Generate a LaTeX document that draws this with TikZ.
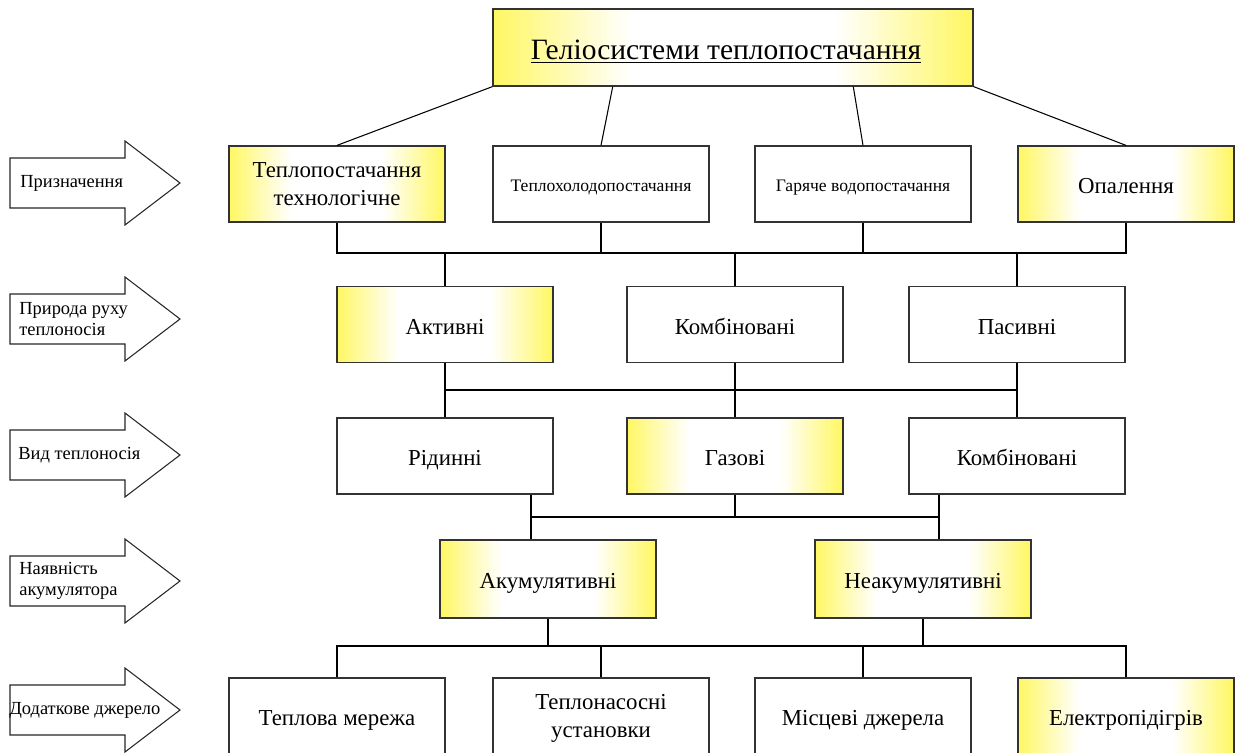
\documentclass[tikz,border=0pt]{standalone}
\usepackage{fontspec}
\setmainfont{Liberation Serif}
\usetikzlibrary{calc}

\tikzset{
    box/.style={draw=black!80, line width=0.7pt, minimum width=4.32cm, minimum height=1.52cm, align=center, inner sep=2pt, font=\fontsize{13}{16}\selectfont, execute at begin node=\strut, text depth=0pt},
    smallbox/.style={box, font=\fontsize{10}{12}\selectfont},
    glow/.style={path picture={
        \foreach \i in {0,...,19} {
            \pgfmathsetmacro\lev{60*(1-\i/20)}
            \fill[yellow!\lev] ($(path picture bounding box.south west)!{\i*0.014}!(path picture bounding box.south east)$) rectangle ($(path picture bounding box.north west)!{(\i+1)*0.014+0.003}!(path picture bounding box.north east)$);
            \fill[yellow!\lev] ($(path picture bounding box.south east)!{\i*0.014}!(path picture bounding box.south west)$) rectangle ($(path picture bounding box.north east)!{(\i+1)*0.014+0.003}!(path picture bounding box.north west)$);
        }
    }},
    conn/.style={line width=0.6pt},
    blockarrow/.style={draw=black!85, line width=0.6pt, fill=white},
    arrowtext/.style={anchor=west, align=left, inner sep=0pt, font=\fontsize{10.5}{12}\selectfont}
}

\begin{document}
\begin{tikzpicture}[x=0.02cm, y=-0.02cm]
    \useasboundingbox (0,0) rectangle (1240,753);

    % Заголовок
    \node[box, glow, minimum width=9.6cm, minimum height=1.54cm, font=\fontsize{16.8}{20}\selectfont] (top) at (733,47.5) {\underline{Геліосистеми теплопостачання}\hspace*{0.28cm}};

    % Призначення
    \node[box, glow] (pr1) at (337,184) {Теплопостачання\\технологічне};
    \node[smallbox] (pr2) at (601,184) {Теплохолодопостачання};
    \node[smallbox] (pr3) at (863,184) {Гаряче водопостачання};
    \node[box, glow] (pr4) at (1126,184) {Опалення};

    % Природа руху теплоносія
    \node[box, glow] (ru1) at (445,324.5) {Активні};
    \node[box] (ru2) at (735,324.5) {Комбіновані};
    \node[box] (ru3) at (1017,324.5) {Пасивні};

    % Вид теплоносія
    \node[box] (vy1) at (445,456) {Рідинні};
    \node[box, glow] (vy2) at (735,456) {Газові};
    \node[box] (vy3) at (1017,456) {Комбіновані};

    % Наявність акумулятора
    \node[box, glow, minimum height=1.56cm] (ak1) at (548,579) {Акумулятивні};
    \node[box, glow, minimum height=1.56cm] (ak2) at (923,579) {Неакумулятивні};

    % Додаткове джерело
    \node[box] (dz1) at (337,716) {Теплова мережа};
    \node[box] (dz2) at (601,716) {Теплонасосні\\установки};
    \node[box] (dz3) at (863,716) {Місцеві джерела};
    \node[box, glow] (dz4) at (1126,716) {Електропідігрів};

    % Шини
    \coordinate (bus1) at (0,253);
    \coordinate (bus2) at (0,390);
    \coordinate (bus3) at (0,517);
    \coordinate (bus4) at (0,646);
    \coordinate (k1) at (531,0);
    \coordinate (k2) at (939,0);

    % Зв'язки
    \draw[conn] (top.south west) -- (pr1.north);
    \draw[conn] ($(top.south west)!0.25!(top.south east)$) -- (pr2.north);
    \draw[conn] ($(top.south west)!0.75!(top.south east)$) -- (pr3.north);
    \draw[conn] (top.south east) -- (pr4.north);

    \draw[conn] (pr1.south) -- (pr1.south |- bus1) -- (pr4.south |- bus1) -- (pr4.south);
    \foreach \n in {pr2,pr3}
        \draw[conn] (\n.south) -- (\n.south |- bus1);
    \foreach \n in {ru1,ru2,ru3}
        \draw[conn] (\n.north) -- (\n.north |- bus1);

    \draw[conn] (ru1.south) -- (vy1.north);
    \draw[conn] (ru2.south) -- (vy2.north);
    \draw[conn] (ru3.south) -- (vy3.north);
    \draw[conn] (ru1.south |- bus2) -- (ru3.south |- bus2);

    \draw[conn] (vy1.south -| k1) -- (ak1.north -| k1);
    \draw[conn] (vy3.south -| k2) -- (ak2.north -| k2);
    \draw[conn] (vy2.south) -- (vy2.south |- bus3);
    \draw[conn] (k1 |- bus3) -- (k2 |- bus3);

    \draw[conn] (ak1.south) -- (ak1.south |- bus4);
    \draw[conn] (ak2.south) -- (ak2.south |- bus4);
    \draw[conn] (dz1.north) -- (dz1.north |- bus4) -- (dz4.north |- bus4) -- (dz4.north);
    \foreach \n in {dz2,dz3}
        \draw[conn] (\n.north) -- (\n.north |- bus4);

    % Стрілки ознак
    \foreach \yc/\xt/\txt/\nm in {183/20/Призначення/oz1, 319/19/{Природа руху\\теплоносія}/oz2, 455/18/Вид теплоносія/oz3, 581/19/{Наявність\\акумулятора}/oz4, 710/9/Додаткове джерело/oz5} {
        \draw[blockarrow] (10,\yc-25) -- (125,\yc-25) -- (125,\yc-42) -- (180,\yc) -- (125,\yc+42) -- (125,\yc+25) -- (10,\yc+25) -- cycle;
        \node[arrowtext] (\nm) at (\xt,\yc) {\txt};
    }
\end{tikzpicture}
\end{document}
